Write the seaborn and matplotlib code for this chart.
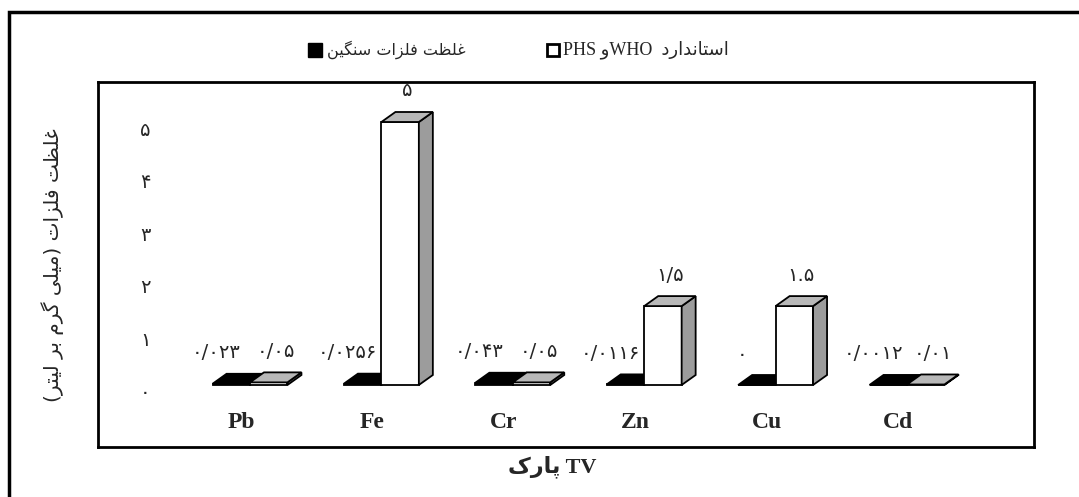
import matplotlib
matplotlib.use("Agg")
import matplotlib.pyplot as plt
import numpy as np
import pandas as pd
import seaborn as sns
from matplotlib.patches import Polygon, Rectangle
from matplotlib.transforms import ScaledTranslation

# ---------------- data ----------------
metals = ["Pb", "Fe", "Cr", "Zn", "Cu", "Cd"]
concentration = [0.023, 0.0256, 0.043, 0.0116, 0.0, 0.0012]
standard = [0.05, 5.0, 0.05, 1.5, 1.5, 0.01]
conc_labels = ["۰/۰۲۳", "۰/۰۲۵۶", "۰/۰۴۳", "۰/۰۱۱۶", "۰", "۰/۰۰۱۲"]
std_labels = ["۰/۰۵", "۵", "۰/۰۵", "۱/۵", "۱.۵", "۰/۰۱"]
y_ticks = [0, 1, 2, 3, 4, 5]
y_tick_labels = ["۰", "۱", "۲", "۳", "۴", "۵"]

# Persian texts in visual (left-to-right) order using presentation forms
legend_conc = ("\uFEE6\uFBFF\uFB95\uFEE8\uFEB3 "
               "\uFE95\uFE8D\uFEB0\uFEE0\uFED3 "
               "\uFE96\uFEC8\uFEE0\uFECF")
legend_std = ("PHS \uFEEDWHO  "
              "\uFEA9\uFEAD\uFE8D\uFEAA\uFEE7\uFE8E\uFE98\uFEB3\uFE8D")
y_label = ("(\uFEAE\uFE98\uFBFF\uFEDF \uFEAE\uFE91 \uFEE1\uFEAE\uFB94 "
           "\uFBFD\uFEE0\uFBFF\uFEE3) "
           "\uFE95\uFE8D\uFEB0\uFEE0\uFED3 "
           "\uFE96\uFEC8\uFEE0\uFECF")
x_label = "\uFB8E\uFEAD\uFE8E\uFB58 TV"

series_names = ["conc", "std"]
df = pd.DataFrame({
    "metal": metals * 2,
    "value": concentration + standard,
    "series": [series_names[0]] * len(metals) + [series_names[1]] * len(metals),
})

# ---------------- style ----------------
sns.set_style("white")
plt.rcParams["font.family"] = ["Liberation Serif", "DejaVu Sans"]

W, H = 1079, 497
fig = plt.figure(figsize=(W / 100, H / 100), dpi=100)


def fx(px):
    return px / W


def fy(py):
    return 1 - py / H


box_l, box_r, box_t, box_b = 98, 1034, 82, 447
ax = fig.add_axes([fx(box_l), fy(box_b), (box_r - box_l) / W, (box_b - box_t) / H])

sns.barplot(data=df, x="metal", y="value", hue="series", hue_order=series_names,
            order=metals, palette=["black", "white"], width=0.57, saturation=1,
            edgecolor="black", linewidth=1.3, legend=False, ax=ax)

# axis scaling (pixel layout)
x0_px, px_per_cat = 250, 131.4
y0_px, px_per_unit = 385, 52.6
ax.set_xlim((box_l - x0_px) / px_per_cat, (box_r - x0_px) / px_per_cat)
ax.set_ylim(-(box_b - y0_px) / px_per_unit, (y0_px - box_t) / px_per_unit)

# 3-D depth offsets in data units
ddx = 14 / px_per_cat
ddy = 10 / px_per_unit

face_styles = [
    dict(top="black", side="black", z=2),
    dict(top="#b8b8b8", side="#9c9c9c", z=3),
]
label_sets = [conc_labels, std_labels]
label_dx = [-15, 7]

for ci, cont in enumerate(ax.containers[:2]):
    st = face_styles[ci]
    for bi, rect in enumerate(cont.patches):
        rect.set_zorder(st["z"])
        x0 = rect.get_x()
        w = rect.get_width()
        yb = rect.get_y()
        yt = yb + rect.get_height()
        top = Polygon([(x0, yt), (x0 + w, yt), (x0 + w + ddx, yt + ddy), (x0 + ddx, yt + ddy)],
                      closed=True, facecolor=st["top"], edgecolor="black", lw=1.3,
                      zorder=st["z"])
        side = Polygon([(x0 + w, yb), (x0 + w, yt), (x0 + w + ddx, yt + ddy), (x0 + w + ddx, yb + ddy)],
                       closed=True, facecolor=st["side"], edgecolor="black", lw=1.3,
                       zorder=st["z"])
        ax.add_patch(side)
        ax.add_patch(top)
        ax.annotate(label_sets[ci][bi], xy=(x0 + w / 2, yt), xytext=(label_dx[ci], 31),
                    textcoords="offset pixels", ha="center", va="center",
                    fontsize=14, family="DejaVu Sans", zorder=5)

# ticks
ax.set_yticks(y_ticks)
ax.set_yticklabels(y_tick_labels, fontsize=14, family="DejaVu Sans")
ax.tick_params(axis="both", length=0)
ax.tick_params(axis="y", pad=-38)
ax.tick_params(axis="x", pad=-25)
ax.set_xticks(range(len(metals)))
ax.set_xticklabels(metals, fontsize=17, fontweight="bold", family="Liberation Serif")
for lab in ax.get_xticklabels():
    lab.set_transform(lab.get_transform() + ScaledTranslation(-9 / 100, 0, fig.dpi_scale_trans))
for lab in ax.get_yticklabels():
    lab.set_transform(lab.get_transform() + ScaledTranslation(0, -6 / 100, fig.dpi_scale_trans))

# labels
ax.set_ylabel(y_label, fontsize=14.5, family="DejaVu Sans")
ax.yaxis.set_label_coords((53 - box_l) / (box_r - box_l), (box_b - 265) / (box_b - box_t))
ax.yaxis.label.set_va("center")
ax.set_xlabel(x_label, fontsize=16, fontweight="bold", family=["Liberation Serif", "DejaVu Sans"])
ax.xaxis.set_label_coords((552 - box_l) / (box_r - box_l), -(467 - box_b) / (box_b - box_t))
ax.xaxis.label.set_va("center")

for sp in ax.spines.values():
    sp.set_visible(True)
    sp.set_color("black")
    sp.set_linewidth(2)

# legend (laid out by hand to match the reference spacing)
leg_y = 50
fig.add_artist(Rectangle((fx(308), fy(leg_y + 7)), 14 / W, 14 / H, transform=fig.transFigure,
                         facecolor="black", edgecolor="black", lw=1))
fig.text(fx(327), fy(leg_y), legend_conc, ha="left", va="center",
         fontsize=11.5, family="DejaVu Sans")
fig.add_artist(Rectangle((fx(547), fy(leg_y + 6)), 12 / W, 12 / H, transform=fig.transFigure,
                         facecolor="white", edgecolor="black", lw=2))
fig.text(fx(563), fy(leg_y), legend_std, ha="left", va="center",
         fontsize=13, family=["Liberation Serif", "DejaVu Sans"])

# outer frame (only top/left edges visible in the crop)
fig.add_artist(Rectangle((fx(9), -0.1), 1.2, fy(12) + 0.1, transform=fig.transFigure,
                         fill=False, edgecolor="black", linewidth=2.5))

fig.savefig("out.png", dpi=100)
